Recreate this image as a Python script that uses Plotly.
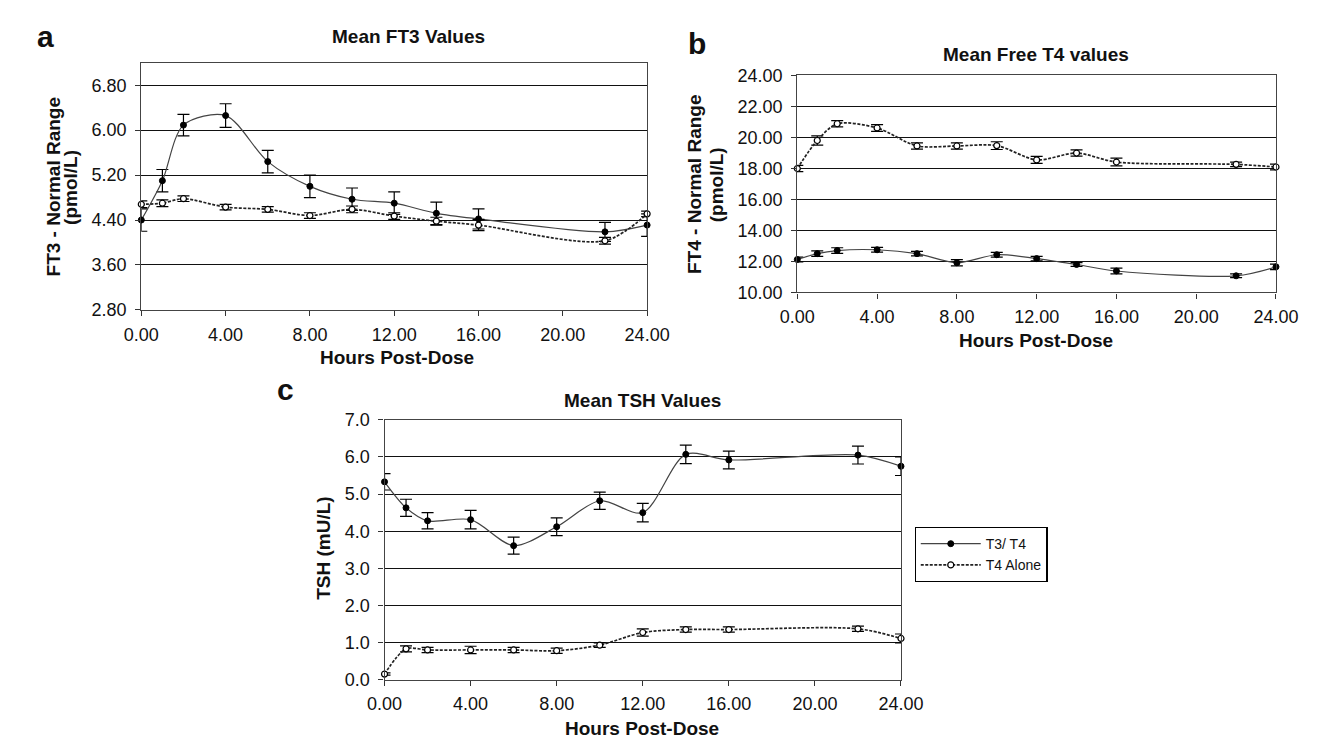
import plotly.graph_objects as go

W, H = 1322, 741

hours = [0, 1, 2, 4, 6, 8, 10, 12, 14, 16, 22, 24]

# Panel a: FT3 (pmol/L)
ft3_t3t4 = [4.40, 5.10, 6.09, 6.26, 5.44, 5.00, 4.77, 4.70, 4.52, 4.42, 4.19, 4.31]
ft3_t3t4_err = [0.20, 0.20, 0.19, 0.21, 0.20, 0.20, 0.20, 0.20, 0.20, 0.18, 0.17, 0.20]
ft3_t4 = [4.68, 4.70, 4.78, 4.63, 4.59, 4.48, 4.59, 4.47, 4.38, 4.31, 4.03, 4.51]
ft3_t4_err = [0.06, 0.06, 0.05, 0.05, 0.05, 0.05, 0.06, 0.06, 0.07, 0.10, 0.06, 0.05]

# Panel b: Free T4 (pmol/L)
ft4_t3t4 = [12.12, 12.50, 12.70, 12.75, 12.50, 11.91, 12.43, 12.18, 11.80, 11.38, 11.07, 11.65]
ft4_t3t4_err = [0.15, 0.18, 0.18, 0.15, 0.15, 0.20, 0.15, 0.15, 0.12, 0.18, 0.12, 0.18]
ft4_t4 = [17.99, 19.80, 20.88, 20.61, 19.45, 19.45, 19.47, 18.55, 18.99, 18.41, 18.26, 18.09]
ft4_t4_err = [0.20, 0.30, 0.20, 0.22, 0.20, 0.20, 0.25, 0.22, 0.20, 0.25, 0.15, 0.18]

# Panel c: TSH (mU/L)
tsh_t3t4 = [5.33, 4.63, 4.28, 4.31, 3.61, 4.12, 4.82, 4.50, 6.07, 5.92, 6.05, 5.75]
tsh_t3t4_err = [0.22, 0.23, 0.22, 0.25, 0.23, 0.24, 0.23, 0.25, 0.25, 0.24, 0.24, 0.25]
tsh_t4 = [0.15, 0.83, 0.80, 0.80, 0.80, 0.78, 0.93, 1.27, 1.35, 1.35, 1.37, 1.11]
tsh_t4_err = [0.03, 0.08, 0.07, 0.10, 0.07, 0.07, 0.06, 0.10, 0.07, 0.07, 0.07, 0.12]

x_ticks = [0, 4, 8, 12, 16, 20, 24]

FONT = "Liberation Sans, Arial, sans-serif"

def px_x(p):
    return p / W

def px_y(p):
    return 1 - p / H

fig = go.Figure()

def add_pair(xa, ya, y1, e1, y2, e2, show):
    fig.add_trace(go.Scatter(
        x=hours, y=y1, xaxis=xa, yaxis=ya, name="T3/ T4", mode="lines+markers",
        line=dict(color="#444444", width=1.2, shape="spline", smoothing=0.85),
        marker=dict(symbol="circle", size=6, color="black", line=dict(color="black", width=1)),
        error_y=dict(type="data", array=e1, visible=True, color="black", thickness=1.2, width=6),
        showlegend=show, cliponaxis=False, legendrank=1))
    fig.add_trace(go.Scatter(
        x=hours, y=y2, xaxis=xa, yaxis=ya, name="T4 Alone", mode="lines+markers",
        line=dict(color="#222222", width=1.7, dash="3px,1.5px", shape="spline", smoothing=0.85),
        marker=dict(symbol="circle", size=6, color="white", line=dict(color="black", width=1.2)),
        error_y=dict(type="data", array=e2, visible=True, color="black", thickness=1.2, width=6),
        showlegend=show, cliponaxis=False, legendrank=2))

add_pair("x", "y", ft3_t3t4, ft3_t3t4_err, ft3_t4, ft3_t4_err, False)
add_pair("x2", "y2", ft4_t3t4, ft4_t3t4_err, ft4_t4, ft4_t4_err, False)
add_pair("x3", "y3", tsh_t3t4, tsh_t3t4_err, tsh_t4, tsh_t4_err, True)

xcommon = dict(range=[0, 24], tickmode="array", tickvals=x_ticks,
               ticktext=[f"{v:.2f}" for v in x_ticks],
               showgrid=False, zeroline=False, showline=True, linecolor="#444444",
               linewidth=1.3, mirror=True, ticks="outside", ticklen=5, tickcolor="#333333",
               ticklabelstandoff=3,
               tickfont=dict(family=FONT, size=18, color="#111111"))
ycommon = dict(showgrid=True, gridcolor="#111111", gridwidth=1.4, zeroline=False,
               showline=True, linecolor="#444444", linewidth=1.3, mirror=True,
               ticks="outside", ticklen=5, tickcolor="#333333",
               ticklabelstandoff=5,
               tickfont=dict(family=FONT, size=18, color="#111111"))

fig.update_layout(
    width=W, height=H, margin=dict(l=0, r=0, t=0, b=0),
    paper_bgcolor="white", plot_bgcolor="white",
    font=dict(family=FONT, color="#111111"),
    xaxis=dict(domain=[px_x(119), px_x(641)], anchor="y", **xcommon),
    yaxis=dict(domain=[px_y(300), px_y(46)], anchor="x", range=[2.8, 7.2],
               tick0=2.8, dtick=0.8, tickformat=".2f", **ycommon),
    xaxis2=dict(domain=[px_x(796), px_x(1290)], anchor="y2", **xcommon),
    yaxis2=dict(domain=[px_y(282), px_y(59)], anchor="x2", range=[10, 24],
                tick0=10, dtick=2, tickformat=".2f", **ycommon),
    xaxis3=dict(domain=[px_x(370), px_x(903)], anchor="y3", **xcommon),
    yaxis3=dict(domain=[px_y(680), px_y(413)], anchor="x3", range=[0, 7],
                tick0=0, dtick=1, tickformat=".1f", **ycommon),
    legend=dict(x=px_x(917), y=px_y(523), xanchor="left", yanchor="top",
                bgcolor="white", bordercolor="black", borderwidth=1.2,
                font=dict(family=FONT, size=14, color="#111111"),
                tracegroupgap=0, itemwidth=60),
)

def ann(text, x, y, size, bold=False, angle=0):
    fig.add_annotation(text=f"<b>{text}</b>" if bold else text,
                       x=px_x(x), y=px_y(y), xref="paper", yref="paper",
                       xanchor="center", yanchor="middle", showarrow=False,
                       textangle=angle, font=dict(family=FONT, size=size, color="#111111"))

# panel letters
ann("a", 20, 19, 30, True)
ann("b", 692, 26, 30, True)
ann("c", 268, 382, 30, True)

# titles
ann("Mean FT3 Values", 395, 19, 19, True)
ann("Mean Free T4 values", 1042, 37, 19, True)
ann("Mean TSH Values", 636, 393, 19, True)

# x titles
ann("Hours Post-Dose", 383, 349, 19, True)
ann("Hours Post-Dose", 1042, 331, 19, True)
ann("Hours Post-Dose", 636, 730, 19, True)

# y titles
ann("FT3 - Normal Range", 28, 174, 19, True, -90)
ann("(pmol/L)", 46, 174, 19, True, -90)
ann("FT4 - Normal Range", 690, 171, 19, True, -90)
ann("(pmol/L)", 712, 171, 19, True, -90)
ann("TSH (mU/L)", 307, 545, 19, True, -90)

fig.write_html("out.html")
